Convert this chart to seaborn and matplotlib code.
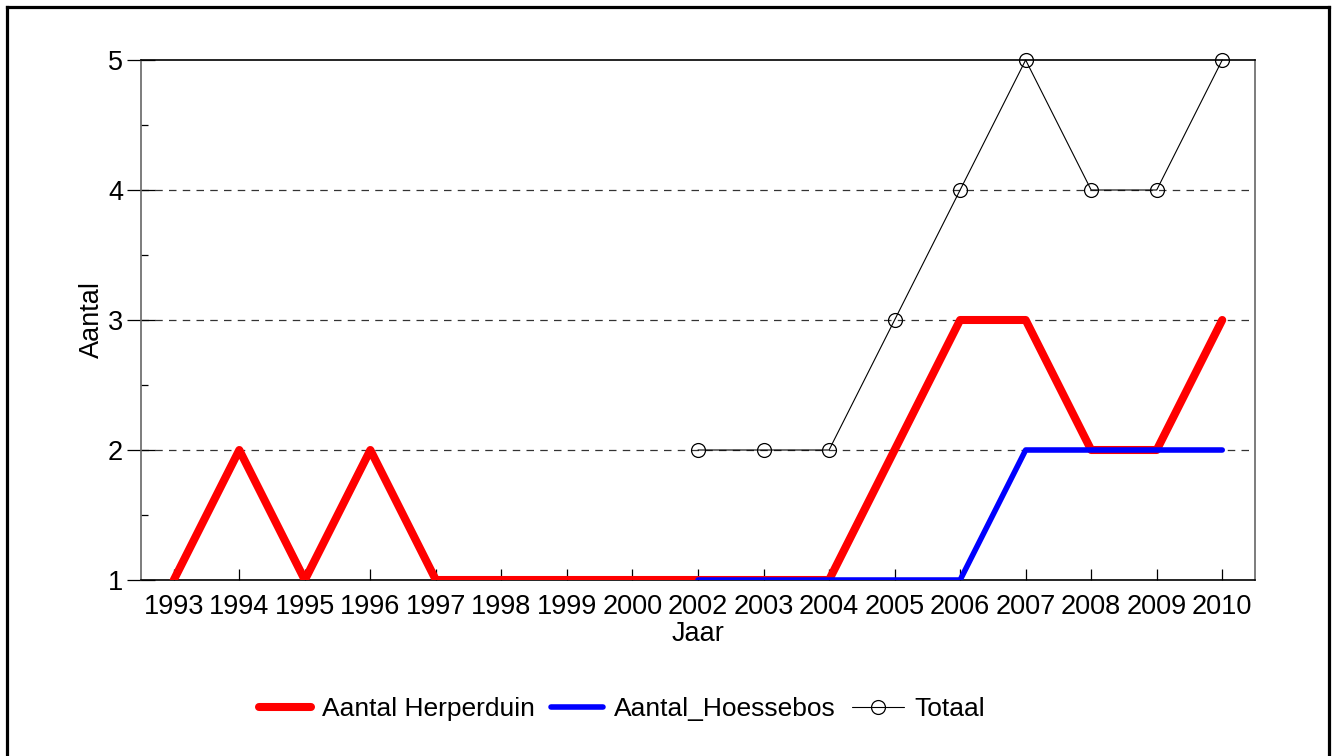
import pandas as pd
import seaborn as sns
import matplotlib.pyplot as plt
from matplotlib.lines import Line2D
from matplotlib.ticker import MultipleLocator

# Data
years = ['1993', '1994', '1995', '1996', '1997', '1998', '1999', '2000', '2002',
         '2003', '2004', '2005', '2006', '2007', '2008', '2009', '2010']
herperduin = [1, 2, 1, 2, 1, 1, 1, 1, 1, 1, 1, 2, 3, 3, 2, 2, 3]
hoessebos_years = ['2002', '2003', '2004', '2005', '2006', '2007', '2008', '2009', '2010']
hoessebos = [1, 1, 1, 1, 1, 2, 2, 2, 2]
totaal_years = ['2002', '2003', '2004', '2005', '2006', '2007', '2008', '2009', '2010']
totaal = [2, 2, 2, 3, 4, 5, 4, 4, 5]

pos = {y: i for i, y in enumerate(years)}
df_h = pd.DataFrame({'x': [pos[y] for y in years], 'v': herperduin})
df_b = pd.DataFrame({'x': [pos[y] for y in hoessebos_years], 'v': hoessebos})
df_t = pd.DataFrame({'x': [pos[y] for y in totaal_years], 'v': totaal})

sns.set_style('white')
plt.rcParams['font.family'] = ['Liberation Sans', 'DejaVu Sans']
plt.rcParams['text.color'] = 'black'
plt.rcParams['axes.labelcolor'] = 'black'
plt.rcParams['xtick.color'] = 'black'
plt.rcParams['ytick.color'] = 'black'

fig = plt.figure(figsize=(13.35, 7.56), dpi=100)
ax = fig.add_axes([141 / 1335, 1 - 580 / 756, (1255 - 141) / 1335, (580 - 60) / 756])

# horizontal dashed grid
for yv in [2, 3, 4]:
    ax.axhline(yv, color='#333333', lw=0.9, ls=(0, (6, 5)), zorder=0)

sns.lineplot(data=df_h, x='x', y='v', ax=ax, color='#ff0000', lw=5.8,
             solid_capstyle='round', label='Aantal Herperduin', zorder=3)
sns.lineplot(data=df_b, x='x', y='v', ax=ax, color='#0000ff', lw=4,
             solid_capstyle='round', label='Aantal_Hoessebos', zorder=4)
sns.lineplot(data=df_t, x='x', y='v', ax=ax, color='black', lw=0.8,
             marker='o', markersize=10, markerfacecolor='none',
             markeredgecolor='black', markeredgewidth=0.9, label='Totaal',
             zorder=5, clip_on=False)

ax.set_xlim(-0.5, len(years) - 0.5)
ax.set_ylim(1, 5)
ax.set_xticks(range(len(years)))
ax.set_xticklabels(years)
ax.yaxis.set_major_locator(MultipleLocator(1))
ax.yaxis.set_minor_locator(MultipleLocator(0.5))
ax.tick_params(axis='x', direction='in', length=8, width=0.9,
               labelsize=19.5, pad=10, bottom=True)
ax.tick_params(axis='y', which='major', direction='inout', length=20, width=0.9,
               labelsize=19.5, pad=3, left=True)
ax.tick_params(axis='y', which='minor', direction='in', length=5, width=0.9,
               left=True)

ax.set_xlabel('Jaar', fontsize=19.5, labelpad=1)
ax.set_ylabel('Aantal', fontsize=19.5, labelpad=2)

for side in ['left', 'right']:
    ax.spines[side].set_color('#666666')
    ax.spines[side].set_linewidth(1.2)
for side in ['top', 'bottom']:
    ax.spines[side].set_color('black')
    ax.spines[side].set_linewidth(1.2)
    ax.spines[side].set_visible(True)

ax.legend(loc='center', bbox_to_anchor=(622 / 1335, 1 - 709 / 756),
          bbox_transform=fig.transFigure, ncol=3, frameon=False, fontsize=19,
          handlelength=2.0, handletextpad=0.4, columnspacing=0.6)

# figure frame (left, top, right)
w, h = 1335, 756
for xs, ys in [([6.5 / w, 6.5 / w], [0, 1 - 6.5 / h]),
               ([6.5 / w, 1 - 6.5 / w], [1 - 6.5 / h, 1 - 6.5 / h]),
               ([1 - 6.5 / w, 1 - 6.5 / w], [0, 1 - 6.5 / h])]:
    fig.add_artist(Line2D(xs, ys, transform=fig.transFigure, color='black',
                          lw=2.3, solid_capstyle='projecting'))

fig.savefig('out.png', dpi=100)
